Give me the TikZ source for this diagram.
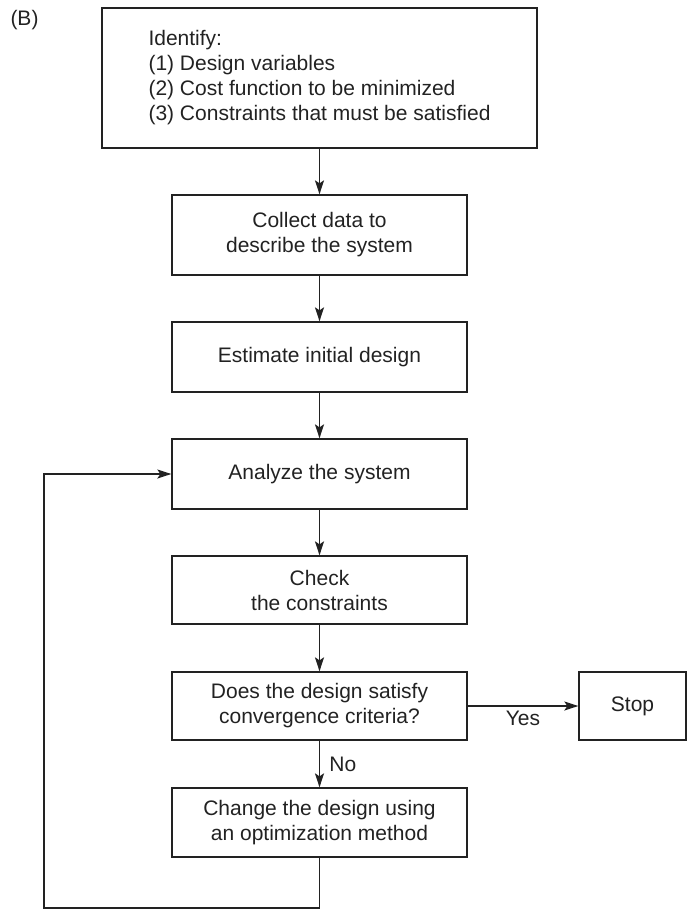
\documentclass[tikz,border=0pt]{standalone}
\usepackage{fontspec}
\setmainfont{Liberation Sans}
\usetikzlibrary{arrows.meta}
\definecolor{ink}{HTML}{222222}
\begin{document}
\begin{tikzpicture}[x=1pt,y=-1pt,
  box/.style={draw=ink, line width=1.3pt, rectangle, align=center, text=ink, inner sep=0pt,
    font=\fontsize{21}{25}\selectfont, minimum width=295pt},
  arr/.style={draw=ink, line width=1.3pt, -{Stealth[length=14pt,width=9pt,inset=3pt]}},
  lbl/.style={text=ink, font=\fontsize{21}{25}\selectfont}]
\useasboundingbox (0,0) rectangle (687,911);
\node[lbl, inner sep=0pt] (lab) at (24.5,20) {(B)};
\node[box, minimum width=435pt, minimum height=140pt, align=left] (top) at (319.5,78)
  {Identify:\\(1) Design variables\\(2) Cost function to be minimized\\(3) Constraints that must be satisfied};
\node[box, minimum height=80pt] (collect) at (319.5,235) {Collect data to\\describe the system};
\node[box, minimum height=70pt] (estimate) at (319.5,357) {Estimate initial design};
\node[box, minimum height=70pt] (analyze) at (319.5,474) {Analyze the system};
\node[box, minimum height=68pt] (check) at (319.5,590) {Check\\the constraints};
\node[box, minimum height=68pt] (does) at (319.5,706) {Does the design satisfy\\convergence criteria?};
\node[box, minimum width=107pt, minimum height=68pt] (stop) at (632.5,706) {Stop};
\node[box, minimum height=69pt] (change) at (319.5,822.5) {Change the design using\\an optimization method};
\coordinate (loopc) at (44,908);
\draw[arr] (top) -- (collect);
\draw[arr] (collect) -- (estimate);
\draw[arr] (estimate) -- (analyze);
\draw[arr] (analyze) -- (check);
\draw[arr] (check) -- (does);
\draw[arr] (does) -- node[lbl, below, inner sep=4pt] {Yes} (stop);
\draw[arr] (does) -- node[lbl, right=6pt] {No} (change);
\draw[arr] (change.south) -- (change.south |- loopc) -- (loopc) |- (analyze.west);
\end{tikzpicture}
\end{document}
